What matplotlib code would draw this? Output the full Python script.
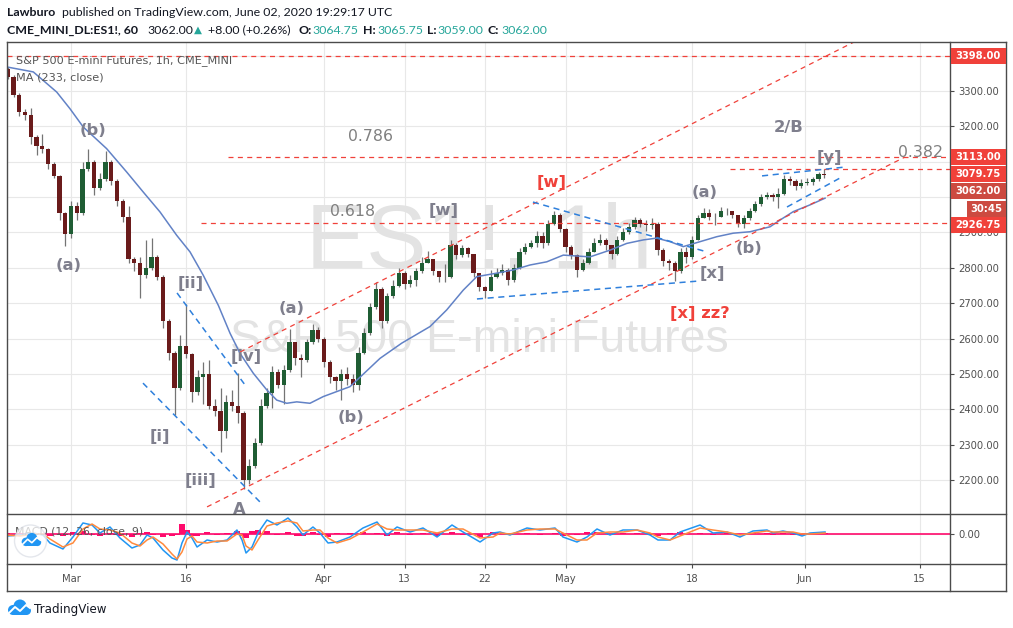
import numpy as np
import matplotlib
matplotlib.use("Agg")
import matplotlib.pyplot as plt
from matplotlib.lines import Line2D
from matplotlib.patches import Rectangle, Circle
from matplotlib.transforms import IdentityTransform

W, H = 1013, 628

# ES1! price, one bar per half trading day, starting ~Feb 24
first_open = 3362
closes = [
    3340, 3290, 3240, 3232, 3170, 3145, 3135, 3095, 3060, 2955,
    2895, 2975, 2955, 3080, 3100, 3025, 3050, 3100, 3045, 2990,
    2945, 2825, 2815, 2780, 2800, 2830, 2775, 2650, 2560, 2460,
    2580, 2557, 2450, 2490, 2500, 2410, 2395, 2340, 2420, 2410,
    2390, 2200, 2240, 2305, 2410, 2445, 2505, 2470, 2510, 2590,
    2545, 2540, 2590, 2625, 2600, 2535, 2490, 2480, 2500, 2485,
    2470, 2560, 2615, 2690, 2740, 2650, 2720, 2750, 2785, 2755,
    2765, 2790, 2815, 2825, 2790, 2775, 2775, 2865, 2835, 2855,
    2838, 2785, 2745, 2735, 2775, 2785, 2795, 2765, 2800, 2845,
    2860, 2870, 2890, 2870, 2925, 2950, 2910, 2860, 2835, 2795,
    2815, 2845, 2870, 2880, 2865, 2840, 2880, 2900, 2915, 2935,
    2925, 2920, 2925, 2850, 2820, 2815, 2790, 2845, 2830, 2880,
    2940, 2955, 2945, 2945, 2960, 2960, 2950, 2925, 2940, 2960,
    2980, 3000, 3005, 3000, 3010, 3050, 3045, 3032, 3040, 3042,
    3050, 3065, 3062]
highs = [
    3368, 3345, 3295, 3250, 3252, 3175, 3178, 3140, 3098, 3062,
    2958, 2990, 2985, 3098, 3135, 3105, 3068, 3130, 3105, 3050,
    2995, 2975, 2830, 2830, 2880, 2885, 2835, 2780, 2655, 2565,
    2610, 2698, 2560, 2510, 2535, 2540, 2430, 2460, 2440, 2455,
    2502, 2395, 2260, 2320, 2430, 2460, 2522, 2515, 2525, 2628,
    2590, 2555, 2600, 2640, 2632, 2605, 2540, 2495, 2515, 2520,
    2500, 2575, 2630, 2700, 2760, 2745, 2730, 2765, 2800, 2790,
    2780, 2800, 2830, 2848, 2825, 2790, 2810, 2880, 2870, 2865,
    2860, 2840, 2785, 2750, 2795, 2800, 2812, 2800, 2810, 2855,
    2870, 2880, 2905, 2900, 2935, 2962, 2955, 2912, 2865, 2838,
    2825, 2855, 2885, 2895, 2885, 2865, 2890, 2912, 2928, 2945,
    2942, 2935, 2940, 2930, 2855, 2825, 2820, 2855, 2860, 2890,
    2950, 2970, 2965, 2955, 2972, 2968, 2962, 2950, 2948, 2968,
    2990, 3008, 3015, 3012, 3025, 3062, 3060, 3050, 3050, 3055,
    3058, 3072, 3080]
lows = [
    3335, 3282, 3228, 3218, 3150, 3120, 3125, 3080, 3055, 2935,
    2862, 2885, 2935, 2950, 3075, 3005, 3020, 3045, 3035, 2975,
    2930, 2815, 2790, 2715, 2770, 2795, 2765, 2630, 2540, 2385,
    2455, 2545, 2420, 2440, 2415, 2400, 2380, 2280, 2320, 2395,
    2360, 2175, 2190, 2235, 2300, 2405, 2405, 2460, 2415, 2505,
    2525, 2490, 2535, 2585, 2590, 2520, 2475, 2455, 2425, 2470,
    2450, 2455, 2555, 2610, 2685, 2630, 2645, 2715, 2745, 2740,
    2745, 2750, 2785, 2815, 2780, 2760, 2760, 2770, 2825, 2830,
    2830, 2775, 2735, 2715, 2735, 2770, 2780, 2752, 2760, 2798,
    2840, 2855, 2860, 2855, 2865, 2920, 2900, 2845, 2825, 2775,
    2790, 2810, 2845, 2865, 2850, 2825, 2835, 2875, 2895, 2910,
    2915, 2905, 2910, 2835, 2805, 2795, 2762, 2785, 2815, 2825,
    2880, 2940, 2935, 2920, 2945, 2950, 2940, 2915, 2912, 2935,
    2958, 2975, 2995, 2990, 2970, 3005, 3035, 3020, 3025, 3035,
    3035, 3045, 3055]

# MA(233, close) as drawn, trading-day index (0 = Mar 2)
ma_days = [-5.57, -3.28, -1.24, -0.09, 1.07, 3.10, 4.84, 6.29, 7.74, 9.19,
           10.35, 11.50, 12.81, 13.83, 14.70, 15.85, 17.02, 17.89, 18.76, 19.63,
           20.78, 21.94, 23.10, 24.26, 26.87, 28.76, 31.22, 32.67, 34.11, 35.28,
           37.02, 38.46, 39.91, 41.37, 42.81, 45.13, 46.87, 48.32, 49.77, 50.93,
           52.09, 53.24, 54.70, 56.15, 57.59, 59.04, 60.78, 61.65, 62.81, 64.26,
           65.57]
ma_vals = [3368, 3354, 3297, 3250, 3198, 3137, 3071, 3014, 2958, 2892,
           2845, 2779, 2694, 2615, 2558, 2502, 2455, 2426, 2417, 2421,
           2417, 2436, 2450, 2464, 2544, 2587, 2634, 2681, 2737, 2775,
           2785, 2794, 2808, 2817, 2836, 2831, 2850, 2869, 2879, 2884,
           2874, 2860, 2874, 2888, 2898, 2902, 2916, 2935, 2959, 2978,
           2997]

# MACD (12, 26, close, 9)
macd_days = [-5.57, -4.43, -3.30, -2.43, -1.83, -0.70, 0.17, 1.04, 1.83, 2.52,
             3.39, 4.26, 5.30, 6.00, 6.61, 7.13, 8.00, 8.78, 9.22, 9.65,
             10.09, 10.52, 10.96, 11.83, 12.70, 13.57, 14.43, 14.87, 15.22, 15.74,
             16.26, 17.04, 17.91, 18.87, 19.65, 20.17, 21.04, 21.65, 22.35, 23.13,
             24.26, 25.39, 26.61, 27.48, 28.35, 29.48, 30.61, 31.83, 33.13, 34.09,
             35.57, 36.70, 37.30, 38.17, 39.65, 40.78, 42.09, 42.78, 44.00, 44.87,
             45.74, 46.87, 48.00, 49.22, 50.35, 51.04, 52.09, 52.96, 54.70, 55.83,
             57.04, 58.17, 59.30, 60.52, 61.04, 61.91, 62.78, 63.57, 64.26, 65.57]
macd_vals = [-2, -1, 1, -1, -9, -15, -3, 11, 9, 1,
             7, -4, -14, -11, -1, -4, -16, -24, -26, -9,
             2, -4, -13, -6, -8, -6, 4, -6, -19, -13,
             1, 14, 9, 16, 7, -1, 7, 1, -9, -8,
             -3, 6, 12, -1, 7, 2, 6, -3, 9, 2,
             -8, 1, 2, -1, 6, 4, 6, -3, -8, -3,
             5, -1, 4, 4, -1, -6, -6, 2, 9, 1,
             2, -3, 3, 4, 1, 3, 1, -2, 1, 2]
signal_vals = [-1, -2, 0, 0, -5, -13, -9, 5, 10, 5,
               4, 1, -9, -12, -6, -3, -10, -20, -25, -18,
               -5, -2, -8, -9, -7, -7, 0, -1, -12, -16,
               -6, 8, 11, 13, 11, 3, 4, 4, -4, -9,
               -5, 2, 10, 5, 4, 4, 4, 1, 5, 5,
               -4, -3, 1, 0, 4, 5, 5, 1, -6, -6,
               1, 2, 2, 4, 1, -3, -6, -2, 6, 4,
               2, -1, 1, 3, 2, 2, 2, 0, 0, 1]
hist_vals = [1, 1, 1, -1, -2, -2, 2, 3, -1, -2,
             1, -2, -3, 1, 2, -1, -3, -2, -1, 10,
             4, -2, -2, 2, -1, 1, 3, -2, -4, 3,
             4, 3, -1, 2, -2, -2, 2, -1, -3, 1,
             1, 2, 1, -2, 2, -1, 1, -2, 2, -1,
             -3, 2, 1, -1, 1, -1, 1, -2, -1, 2,
             2, -1, 1, 1, -1, -2, 1, 2, 1, -1,
             1, -1, 1, 1, -1, 1, -1, -1, 1, 1]

date_ticks = [0, 10, 22, 29, 36, 43, 54, 63.8, 73.8]
date_labels = ["Mar", "16", "Apr", "13", "22", "May", "18", "Jun", "15"]
price_ticks = [2200, 2300, 2400, 2500, 2600, 2700, 2800, 2900, 3000, 3100, 3200, 3300, 3400]
# labels hidden behind the coloured price tags
price_tick_labels = ["2200.00", "2300.00", "2400.00", "2500.00", "2600.00", "2700.00",
                     "2800.00", "2900.00", "", "", "3200.00", "3300.00", ""]

# horizontal levels: price, first day
red_levels = [3398.00, 3113.00, 3079.75, 2926.75]
red_level_from = [-5.6, 13.65, 57.3, 11.3]

# drawn trend lines (day, price) pairs
red_channel = [((14.70, 2562), (70.0, 3470)), ((11.83, 2124), (72.5, 3113))]
blue_lines = [((6.26, 2474), (16.43, 2138)),
              ((9.22, 2729), (15.13, 2469)),
              ((40.17, 2986), (55.30, 2845)),
              ((35.30, 2712), (54.70, 2763)),
              ((60.09, 3060), (67.30, 3085)),
              ((62.26, 2972), (67.04, 3057))]

# wave labels: text, day, price, colour
GRAY = "#7f7f8d"
RED = "#f0413a"
wave_labels = [("(b)", 1.91, 3187, GRAY), ("(a)", -0.17, 2808, GRAY),
               ("[ii]", 10.43, 2757, GRAY), ("[iv]", 15.22, 2548, GRAY),
               ("[i]", 7.74, 2322, GRAY), ("[iii]", 11.30, 2200, GRAY),
               ("A", 14.61, 2118, GRAY), ("(a)", 19.22, 2684, GRAY),
               ("(b)", 24.35, 2378, GRAY), ("[w]", 32.43, 2961, GRAY),
               ("[w]", 41.83, 3040, RED), ("(a)", 55.13, 3014, GRAY),
               ("(b)", 58.96, 2856, GRAY), ("[x]", 55.74, 2783, GRAY),
               ("[x] zz?", 54.70, 2672, RED), ("2/B", 62.43, 3198, GRAY),
               ("[y]", 65.91, 3113, GRAY)]
fib_labels = [("0.786", 26.0, 3170), ("0.618", 24.52, 2958)]


### Figure ###

def fx(px):
    return px / W


def fy(py):
    return 1 - py / H


fig = plt.figure(figsize=(W / 100, H / 100), dpi=100)
fig.patch.set_facecolor("white")

ax = fig.add_axes([fx(7), fy(514), (950 - 7) / W, (514 - 42) / H])
axm = fig.add_axes([fx(7), fy(564), (950 - 7) / W, (564 - 514) / H])
xlim = ((7 - 71) / 11.5, (950 - 71) / 11.5)

for a in (ax, axm):
    a.set_xlim(*xlim)
    a.set_xticks(date_ticks)
    for s in a.spines.values():
        s.set_visible(False)
    a.grid(True, color="#e8e8e8", lw=0.8, zorder=0)
    a.set_axisbelow(True)
    a.yaxis.tick_right()

ax.set_ylim(2103.9, 3438.6)
ax.set_yticks(price_ticks)
ax.set_yticklabels(price_tick_labels)
ax.tick_params(axis="x", bottom=False, labelbottom=False)
ax.tick_params(axis="y", length=3, pad=3, labelsize=7.2, color="#4b4b4b", labelcolor="#505050")

axm.set_ylim(-30, 20)
axm.set_yticks([0])
axm.set_yticklabels(["0.00"])
axm.set_xticklabels(date_labels)
axm.tick_params(axis="y", length=3, pad=3, labelsize=7.2, color="#4b4b4b", labelcolor="#505050")
axm.tick_params(axis="x", length=3, pad=4.5, labelsize=7.2, color="#4b4b4b", labelcolor="#505050")

# watermark
ax.text(fx(479), fy(267), "ES1!, 1h", transform=fig.transFigure, family="Liberation Sans",
        fontsize=65, color="#e3e3e3", ha="center", va="baseline", zorder=1)
ax.text(fx(479), fy(352), "S&P 500 E-mini Futures", transform=fig.transFigure, family="Liberation Sans",
        fontsize=33.5, color="#e3e3e3", ha="center", va="baseline", zorder=1)

# candles
closes = np.array(closes, float)
opens = np.r_[first_open, closes[:-1]]
days = -5.5 + 0.5 * np.arange(len(closes))
up = closes >= opens
ax.vlines(days, lows, highs, color="#747474", lw=0.9, zorder=3)
ax.bar(days[up], closes[up] - opens[up], bottom=opens[up], width=0.38, color="#1f5d34", zorder=4)
ax.bar(days[~up], closes[~up] - opens[~up], bottom=opens[~up], width=0.38, color="#6a1b1b", zorder=4)

ax.plot(ma_days, ma_vals, color="#6282c6", lw=1.1, zorder=5)

# levels and trend lines
for lvl, d0 in zip(red_levels, red_level_from):
    ax.plot([d0, xlim[1]], [lvl, lvl], color=RED, lw=0.9, ls=(0, (4, 3.5)), zorder=5)
for (d0, p0), (d1, p1) in red_channel:
    ax.plot([d0, d1], [p0, p1], color=RED, lw=0.9, ls=(0, (4, 3.5)), zorder=5)
for (d0, p0), (d1, p1) in blue_lines:
    ax.plot([d0, d1], [p0, p1], color="#2f80dc", lw=1.1, ls=(0, (4, 3)), zorder=5)

for txt, d, p, c in wave_labels:
    ax.text(d, p, txt, color=c, fontsize=11.8, fontweight="bold", ha="center", va="center", zorder=6)
for txt, d, p in fib_labels:
    ax.text(d, p, txt, color="#808080", fontsize=11.3, ha="center", va="center", zorder=6)
ax.text(75.83, 3127, "0.382", color="#808080", fontsize=11.3, ha="right", va="center", zorder=6)

ax.text(fx(16), fy(61), "S&P 500 E-mini Futures, 1h, CME_MINI", transform=fig.transFigure,
        fontsize=8.1, color="#555555", va="center", zorder=7)
ax.text(fx(16), fy(78), "MA (233, close)", transform=fig.transFigure,
        fontsize=8.1, color="#555555", va="center", zorder=7)

# MACD pane
axm.axhline(0, color="#ff0a6c", lw=1.2, zorder=2)
axm.bar(macd_days, hist_vals, width=0.5, color="#ff0a6c", zorder=2)
axm.plot(macd_days, macd_vals, color="#2196f3", lw=1.1, zorder=3)
axm.plot(macd_days, signal_vals, color="#ff8a3d", lw=1.1, zorder=3)
axm.text(fx(15), fy(532), "MACD (12, 26, close, 9)", transform=fig.transFigure,
         fontsize=7.8, color="#555555", va="center", zorder=4)


def tv_logo(cx, cy, s):
    """ TradingView cloud mark, centre in image pixels """
    parts = [Circle((cx - 6 * s, H - (cy + 1 * s)), 5 * s),
             Circle((cx + 1 * s, H - (cy - 3 * s)), 6.5 * s),
             Circle((cx + 7.5 * s, H - (cy + 1.5 * s)), 4.5 * s),
             Rectangle((cx - 6 * s, H - (cy + 6 * s)), 13.5 * s, 6 * s)]
    for p in parts:
        p.set_facecolor("#2196f3")
        p.set_edgecolor("none")
        p.set_transform(IdentityTransform())
        fig.add_artist(p)
    zx = [cx - 10 * s, cx - 4 * s, cx + 1 * s, cx + 7 * s, cx + 11 * s]
    zy = [cy + 4 * s, cy - 2 * s, cy + 2 * s, cy - 4 * s, cy - 1 * s]
    fig.add_artist(Line2D(zx, [H - v for v in zy], color="white", lw=1.4 * s,
                          transform=IdentityTransform()))


badge = Circle((30.5, H - 541), 16, facecolor="white", edgecolor="#dcdfe6", lw=1,
               alpha=0.75, transform=IdentityTransform())
fig.add_artist(badge)
tv_logo(31, 541, 0.85)
tv_logo(19, 609, 1.0)
fig.text(fx(34), fy(609), "TradingView", fontsize=8.6, color="#131722", va="center")

# frame
frame = "#4b4b4b"
for x0, y0, x1, y1 in [(7, 42, 1006, 42), (7, 591, 1006, 591), (7, 42, 7, 591),
                       (1006, 42, 1006, 591), (950, 42, 950, 591),
                       (7, 514, 1006, 514), (7, 564, 1006, 564)]:
    fig.add_artist(Line2D([fx(x0), fx(x1)], [fy(y0), fy(y1)], color=frame, lw=1.0))

# price axis tags
price_boxes = [("3398.00", 56, 950, "#f0413a"), ("3113.00", 157, 950, "#f0413a"),
               ("3079.75", 174, 950, "#f0413a"), ("3062.00", 191, 950, "#cc4a40"),
               ("30:45", 208.5, 966, "#cc4a40"), ("2926.75", 225, 950, "#f0413a")]
for txt, py, x0, col in price_boxes:
    fig.add_artist(Rectangle((fx(x0 + 0.5), fy(py + 8)), (1005.5 - x0) / W, 16 / H,
                             facecolor=col, edgecolor="none", zorder=5))
    fig.text(fx((x0 + 1006) / 2), fy(py), txt, color="white", fontsize=7.2,
             fontweight="bold", ha="center", va="center", zorder=6)

# header
hdr = dict(family="Lato", fontsize=8.9, va="center", color="#131722")
teal = "#26a69a"
fig.text(fx(7), fy(13), "Lawburo", fontweight="bold", **hdr)
fig.text(fx(62), fy(13), "published on TradingView.com, June 02, 2020 19:29:17 UTC", **hdr)
fig.text(fx(7), fy(30), "CME_MINI_DL:ES1!, 60", fontweight="bold", **hdr)
fig.text(fx(147), fy(30), "3062.00", **hdr)
fig.text(fx(194), fy(30), "\u25b2", family="DejaVu Sans", fontsize=7.5, color=teal, va="center")
fig.text(fx(208), fy(30), "+8.00 (+0.26%)", **hdr)
for lab, x_lab, val, x_val in [("O:", 298, "3064.75", 312), ("H:", 363, "3065.75", 377),
                               ("L:", 427, "3059.00", 437), ("C:", 487, "3062.00", 501)]:
    fig.text(fx(x_lab), fy(30), lab, fontweight="bold", **hdr)
    fig.text(fx(x_val), fy(30), val, **dict(hdr, color=teal))

fig.savefig("out.png", dpi=100, facecolor="white")
